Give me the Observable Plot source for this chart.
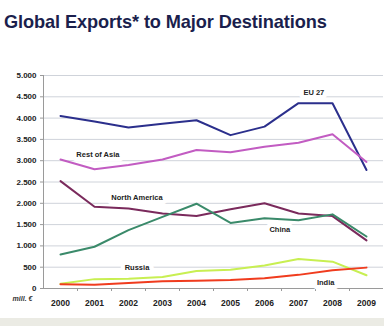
<!DOCTYPE html>
<html>
<head>
<meta charset="utf-8">
<script src="https://cdn.jsdelivr.net/npm/d3@7"></script>
<script src="https://cdn.jsdelivr.net/npm/@observablehq/plot@0.6"></script>
<style>
  html, body { margin: 0; padding: 0; background: #ebebe4; }
  #wrap { width: 384px; height: 318px; background: #fff; position: relative; overflow: hidden; }
  #title { position: absolute; left: 4px; top: 12px; font-family: "Liberation Sans", Arial, sans-serif; font-weight: bold; font-size: 18.2px; color: #1b1f4d; white-space: nowrap; letter-spacing: -0.1px; }
  #chart { position: absolute; left: 0; top: 40px; }
</style>
</head>
<body>
<div id="wrap">
  <div id="title">Global Exports* to Major Destinations</div>
  <div id="chart"></div>
</div>
<script>
const years = [2000, 2001, 2002, 2003, 2004, 2005, 2006, 2007, 2008, 2009];
const eu27 = [4050, 3920, 3780, 3870, 3950, 3600, 3800, 4350, 4350, 2780];
const restOfAsia = [3030, 2800, 2900, 3030, 3250, 3200, 3330, 3420, 3620, 2970];
const northAmerica = [2520, 1920, 1880, 1760, 1700, 1860, 2000, 1760, 1700, 1130];
const china = [800, 980, 1370, 1680, 1990, 1540, 1650, 1600, 1740, 1220];
const russia = [110, 220, 230, 270, 410, 440, 540, 690, 630, 310];
const india = [100, 90, 130, 170, 180, 200, 240, 320, 430, 490];
const seriesNames = ["EU 27", "Rest of Asia", "North America", "China", "Russia", "India"];
const seriesColors = ["#2b2f8c", "#c25cc2", "#7a2a5c", "#3a8a6a", "#c8ef52", "#f03c1e"];
const yTicks = [0, 500, 1000, 1500, 2000, 2500, 3000, 3500, 4000, 4500, 5000];
const labelText = ["EU 27", "Rest of Asia", "North America", "China", "Russia", "India"];
const labelYear = [2007.45, 2001.1, 2002.25, 2006.45, 2002.25, 2007.8];
const labelValue = [4600, 3140, 2140, 1390, 495, 145];
const unitLabel = "mill. €";

const seriesValues = [eu27, restOfAsia, northAmerica, china, russia, india];
const data = [];
seriesNames.forEach((s, i) => years.forEach((yr, j) => data.push({series: s, year: yr, value: seriesValues[i][j]})));
const labels = labelText.map((t, i) => ({text: t, year: labelYear[i], value: labelValue[i]}));
const halfYears = years.slice(0, -1).map(y => y + 0.5);
const fmt = d => d3.format(",")(d).replace(/,/g, ".");
const font = "Liberation Sans, Arial, sans-serif";

const plot = Plot.plot({
  width: 384,
  height: 278,
  marginLeft: 43,
  marginRight: 1,
  marginTop: 35,
  marginBottom: 30,
  style: {fontFamily: font, background: "white", color: "#333"},
  x: {domain: [1999.5, 2009.5]},
  y: {domain: [0, 5000]},
  color: {domain: seriesNames, range: seriesColors},
  marks: [
    Plot.gridY(yTicks, {stroke: "#cfd3da", strokeOpacity: 1, strokeWidth: 1}),
    Plot.ruleX([1999.5], {y1: 0, y2: 5000, stroke: "#9a9a9a"}),
    Plot.ruleY([0], {stroke: "#9a9a9a"}),
    Plot.axisY(yTicks, {tickSize: 3, tickPadding: 4, tickFormat: fmt, stroke: "#9a9a9a", fontSize: 8, fontWeight: "bold", fill: "#222", label: null}),
    Plot.axisX(halfYears, {tickSize: 3, tickFormat: () => "", stroke: "#9a9a9a", label: null}),
    Plot.axisX(years, {tickSize: 0, tickPadding: 11, tickFormat: d => String(d), fontSize: 8.5, fontWeight: "bold", fill: "#222", label: null}),
    Plot.text([unitLabel], {frameAnchor: "bottom-left", textAnchor: "middle", dx: -21, dy: 12, fontSize: 7, fontWeight: "bold", fontStyle: "italic", fill: "#333"}),
    Plot.text(labels, {x: "year", y: "value", text: "text", fontSize: 7.5, fontWeight: "bold", fill: "#222", stroke: "white", strokeWidth: 9, paintOrder: "stroke"}),
    Plot.line(data, {x: "year", y: "value", z: "series", stroke: "series", strokeWidth: 2})
  ]
});
document.getElementById("chart").appendChild(plot);
</script>
</body>
</html>
